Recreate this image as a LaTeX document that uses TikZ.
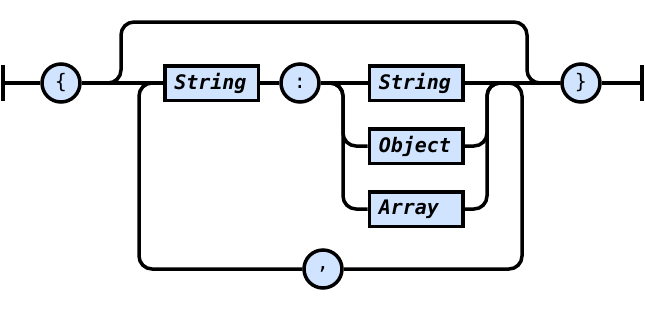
\documentclass[tikz,border=0pt]{standalone}
\usepackage{fontspec}
\setmonofont{DejaVu Sans Mono}
\definecolor{railblue}{RGB}{208,228,255}
\begin{document}
\begin{tikzpicture}[x=1pt,y=-1pt,line width=3.5pt,
    token/.style={circle,draw,fill=railblue,minimum size=38pt,inner sep=0pt,
        font=\fontsize{20}{24}\selectfont\ttfamily},
    rule/.style={rectangle,draw,fill=railblue,text width=74.5pt,align=left,
        inner xsep=9.5pt,inner ysep=0pt,minimum height=34.5pt,
        font=\fontsize{20}{24}\selectfont\ttfamily\bfseries\itshape},
    rail/.style={rounded corners=13pt}]
\useasboundingbox (0,0) rectangle (645,309);

\coordinate (start) at (3,83);
\coordinate (finish) at (642,83);
\node[token] (lbrace) at (61,83) {\{};
\node[rule] (key) at (211.5,83) {String};
\node[token] (colon) at (300,83) {:};
\node[rule] (vstr) at (416,83) {String};
\node[rule] (vobj) at (416,146) {Object};
\node[rule] (varr) at (416,209) {Array};
\node[token] (comma) at (323,269) {,};
\node[token] (rbrace) at (581,83) {\}};

% ends
\draw (start) ++(0,-18) -- ++(0,36);
\draw (finish) ++(0,-18) -- ++(0,36);

% main line
\draw (start) -- (lbrace);
\draw (lbrace) -- (key);
\draw (key) -- (colon);
\draw (colon) -- (vstr);
\draw (vstr) -- (rbrace);
\draw (rbrace) -- (finish);

% empty object
\draw[rail] (lbrace.east) -| (121,22) -| (527,83) -- (rbrace.west);

% value choices
\draw[rail] (colon.east) -| (343,146) -- (vobj.west);
\draw[rail] (colon.east) -| (343,209) -- (varr.west);
\draw[rail] (vobj.east) -| (487,83) -- (rbrace.west);
\draw[rail] (varr.east) -| (487,83) -- (rbrace.west);

% more members
\draw[rail] (key.west) -| (139,269) -- (comma.west);
\draw[rail] (comma.east) -| (522,83) -- (vstr.east);
\end{tikzpicture}
\end{document}
